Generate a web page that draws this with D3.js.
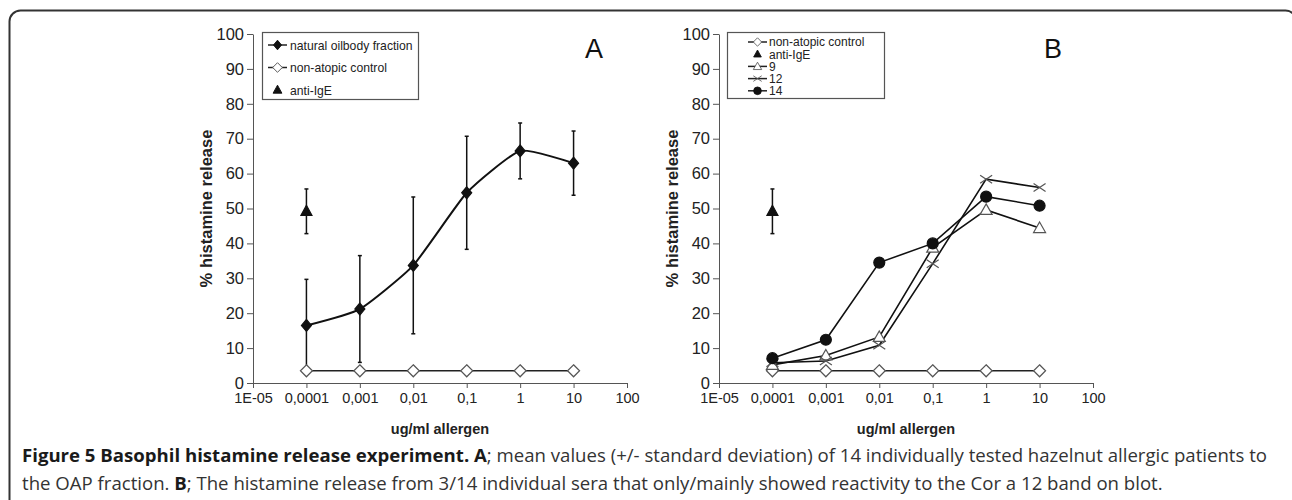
<!DOCTYPE html>
<html>
<head>
<meta charset="utf-8">
<script src="https://cdn.jsdelivr.net/npm/d3@7"></script>
<style>
  body { margin: 0; background: #fff; }
  svg { display: block; }
  .tick text { font-family: Arial, "Liberation Sans", sans-serif; fill: #222; }
  .axis path, .axis line { stroke: #555; }
</style>
</head>
<body>
<div id="chart"></div>
<script>
// concentrations (ug/ml) and tick labels
const doses = [0.0001, 0.001, 0.01, 0.1, 1, 10];
const xTicks = [1e-5, 1e-4, 1e-3, 1e-2, 1e-1, 1, 10, 100];
const xTickLabels = ["1E-05", "0,0001", "0,001", "0,01", "0,1", "1", "10", "100"];
const yTicks = [0, 10, 20, 30, 40, 50, 60, 70, 80, 90, 100];

// panel A: mean +/- sd
const oilbodyMean = [16.5, 21.2, 33.7, 54.5, 66.5, 63.0];
const oilbodySd = [13.2, 15.3, 19.6, 16.2, 8.0, 9.2];
const controlA = [3.5, 3.5, 3.5, 3.5, 3.5, 3.5];
const antiIgEA = { dose: 0.0001, mean: 49.2, sd: 6.4 };

// panel B: individual sera
const controlB = [3.5, 3.5, 3.5, 3.5, 3.5, 3.5];
const serum9 = [5.2, 7.9, 13.2, 38.8, 49.6, 44.4];
const serum12 = [5.8, 6.3, 10.8, 34.2, 58.4, 56.0];
const serum14 = [7.1, 12.4, 34.5, 40.0, 53.4, 50.8];
const antiIgEB = { dose: 0.0001, mean: 49.2, sd: 6.4 };

const W = 1292, H = 500;
const font = "Arial, 'Liberation Sans', sans-serif";
const svg = d3.select("#chart").append("svg").attr("width", W).attr("height", H);

// figure frame
svg.append("rect")
  .attr("x", 9.5).attr("y", 10.5)
  .attr("width", 1287).attr("height", 520)
  .attr("rx", 11)
  .attr("fill", "none").attr("stroke", "#333").attr("stroke-width", 2);

const yScale = d3.scaleLinear().domain([0, 100]).range([383, 34]);
const fmt = (d) => xTickLabels[xTicks.indexOf(d)];

// marker shapes
function marker(g, type, x, y) {
  const s = g.append("path").attr("transform", `translate(${x},${y})`).attr("stroke-width", 1.2);
  if (type === "diamondFill") s.attr("d", "M0,-6L5,0L0,6L-5,0Z").attr("fill", "#111").attr("stroke", "#111");
  if (type === "diamondOpen") s.attr("d", "M0,-6L6,0L0,6L-6,0Z").attr("fill", "#fff").attr("stroke", "#555");
  if (type === "triFill") s.attr("d", "M0,-6L5.5,4L-5.5,4Z").attr("fill", "#111").attr("stroke", "#111");
  if (type === "triOpen") s.attr("d", "M0,-6L6,4.5L-6,4.5Z").attr("fill", "#fff").attr("stroke", "#555");
  if (type === "circle") s.attr("d", d3.symbol(d3.symbolCircle, 95)()).attr("fill", "#111").attr("stroke", "#111");
  if (type === "cross") s.attr("d", "M-6,-4L6,4M-6,4L6,-4").attr("fill", "none").attr("stroke", "#555");
  return s;
}

function errorBar(g, x, mean, sd) {
  g.append("line").attr("x1", x).attr("x2", x)
    .attr("y1", yScale(mean + sd)).attr("y2", yScale(mean - sd))
    .attr("stroke", "#111").attr("stroke-width", 1.5);
  [mean + sd, mean - sd].forEach((v) => {
    g.append("line").attr("x1", x - 2).attr("x2", x + 2)
      .attr("y1", yScale(v)).attr("y2", yScale(v))
      .attr("stroke", "#111").attr("stroke-width", 1.5);
  });
}

function drawAxes(x0, x1, letter, lx) {
  const xScale = d3.scaleLog().domain([1e-5, 100]).range([x0, x1]);
  const g = svg.append("g");

  g.append("g").attr("class", "axis")
    .attr("transform", `translate(${x0},0)`)
    .call(d3.axisLeft(yScale).tickValues(yTicks).tickSize(6).tickPadding(3).tickSizeOuter(0))
    .call((a) => a.selectAll(".tick text").style("font-size", "16.5px"));

  g.append("g").attr("class", "axis")
    .attr("transform", `translate(0,${yScale(0)})`)
    .call(d3.axisBottom(xScale).tickValues(xTicks).tickFormat(fmt).tickSize(5).tickPadding(5).tickSizeOuter(0))
    .call((a) => a.selectAll(".tick text").style("font-size", "14.5px"));

  g.append("text")
    .attr("x", (x0 + x1) / 2).attr("y", 434)
    .attr("text-anchor", "middle")
    .style("font-family", font)
    .style("font-size", "14.5px").style("font-weight", "bold").attr("fill", "#222")
    .text("ug/ml allergen");

  g.append("text")
    .attr("transform", `translate(${x0 - 41},${(yScale(0) + yScale(100)) / 2}) rotate(-90)`)
    .attr("text-anchor", "middle")
    .style("font-family", font)
    .style("font-size", "16.5px").style("font-weight", "bold").attr("fill", "#222")
    .text("% histamine release");

  g.append("text")
    .attr("x", lx).attr("y", 58)
    .attr("text-anchor", "middle")
    .style("font-family", font)
    .style("font-size", "27px").attr("fill", "#111")
    .text(letter);

  return { g, xScale };
}

// ---------- panel A ----------
{
  const { g, xScale } = drawAxes(253, 627, "A", 594);
  const smooth = d3.line().x((d, i) => xScale(doses[i])).y((d) => yScale(d)).curve(d3.curveCardinal.tension(0.5));
  const straight = d3.line().x((d, i) => xScale(doses[i])).y((d) => yScale(d));

  g.append("path").datum(controlA).attr("d", straight).attr("fill", "none").attr("stroke", "#222").attr("stroke-width", 1.5);
  oilbodyMean.forEach((m, i) => errorBar(g, xScale(doses[i]), m, oilbodySd[i]));
  g.append("path").datum(oilbodyMean).attr("d", smooth).attr("fill", "none").attr("stroke", "#111").attr("stroke-width", 2);
  oilbodyMean.forEach((m, i) => marker(g, "diamondFill", xScale(doses[i]), yScale(m)));
  controlA.forEach((m, i) => marker(g, "diamondOpen", xScale(doses[i]), yScale(m)));
  errorBar(g, xScale(antiIgEA.dose), antiIgEA.mean, antiIgEA.sd);
  marker(g, "triFill", xScale(antiIgEA.dose), yScale(antiIgEA.mean));

  // legend
  const lg = g.append("g");
  lg.append("rect").attr("x", 262.5).attr("y", 32.5).attr("width", 156).attr("height", 67)
    .attr("fill", "#fff").attr("stroke", "#555").attr("stroke-width", 1.2);
  const items = [["natural oilbody fraction", "diamondFill", true], ["non-atopic control", "diamondOpen", true], ["anti-IgE", "triFill", false]];
  items.forEach(([label, type, line], i) => {
    const y = 45 + i * 22.5;
    if (line) lg.append("line").attr("x1", 268).attr("x2", 287).attr("y1", y).attr("y2", y).attr("stroke", "#222").attr("stroke-width", 1.5);
    marker(lg, type, 277.5, y).attr("transform", `translate(277.5,${y}) scale(0.8)`);
    lg.append("text").attr("x", 290).attr("y", y + 4.5)
      .style("font-family", font).style("font-size", "12.2px").attr("fill", "#222").text(label);
  });
}

// ---------- panel B ----------
{
  const { g, xScale } = drawAxes(719, 1093, "B", 1053);
  const straight = d3.line().x((d, i) => xScale(doses[i])).y((d) => yScale(d));

  g.append("path").datum(controlB).attr("d", straight).attr("fill", "none").attr("stroke", "#222").attr("stroke-width", 1.5);
  [serum9, serum12, serum14].forEach((s) => {
    g.append("path").datum(s).attr("d", straight).attr("fill", "none").attr("stroke", "#111").attr("stroke-width", 1.6);
  });
  controlB.forEach((m, i) => marker(g, "diamondOpen", xScale(doses[i]), yScale(m)));
  serum9.forEach((m, i) => marker(g, "triOpen", xScale(doses[i]), yScale(m)));
  serum12.forEach((m, i) => marker(g, "cross", xScale(doses[i]), yScale(m)));
  serum14.forEach((m, i) => marker(g, "circle", xScale(doses[i]), yScale(m)));
  errorBar(g, xScale(antiIgEB.dose), antiIgEB.mean, antiIgEB.sd);
  marker(g, "triFill", xScale(antiIgEB.dose), yScale(antiIgEB.mean));

  // legend
  const lg = g.append("g");
  lg.append("rect").attr("x", 727.5).attr("y", 32.5).attr("width", 157).attr("height", 66)
    .attr("fill", "#fff").attr("stroke", "#555").attr("stroke-width", 1.2);
  const items = [["non-atopic control", "diamondOpen", true], ["anti-IgE", "triFill", false], ["9", "triOpen", true], ["12", "cross", true], ["14", "circle", true]];
  items.forEach(([label, type, line], i) => {
    const y = 42 + i * 12.2;
    if (line) lg.append("line").attr("x1", 748).attr("x2", 767).attr("y1", y).attr("y2", y).attr("stroke", "#222").attr("stroke-width", 1.5);
    marker(lg, type, 757.5, y).attr("transform", `translate(757.5,${y}) scale(0.7)`);
    lg.append("text").attr("x", 769).attr("y", y + 4.3)
      .style("font-family", font).style("font-size", "12px").attr("fill", "#222").text(label);
  });
}

// ---------- caption ----------
const cap = svg.append("g").style("font-family", "'Open Sans', sans-serif").style("font-size", "18.6px").attr("fill", "#333");
const line1 = cap.append("text").attr("x", 22).attr("y", 462);
line1.append("tspan").style("font-weight", "bold").attr("fill", "#1a1a1a").text("Figure 5 Basophil histamine release experiment. A");
line1.append("tspan").text("; mean values (+/- standard deviation) of 14 individually tested hazelnut allergic patients to");
const line2 = cap.append("text").attr("x", 22).attr("y", 490);
line2.append("tspan").text("the OAP fraction. ");
line2.append("tspan").style("font-weight", "bold").attr("fill", "#1a1a1a").text("B");
line2.append("tspan").text("; The histamine release from 3/14 individual sera that only/mainly showed reactivity to the Cor a 12 band on blot.");
</script>
</body>
</html>
